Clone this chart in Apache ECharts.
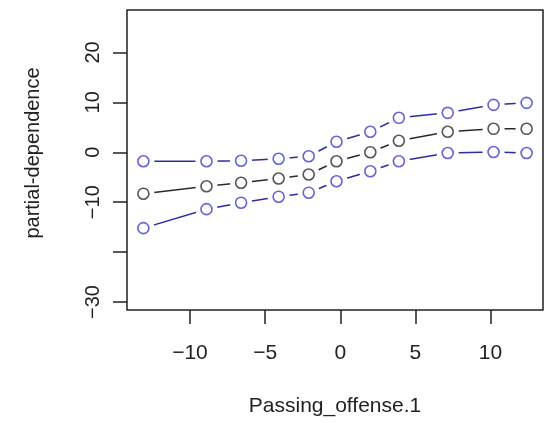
<!DOCTYPE html>
<html>
<head>
<meta charset="utf-8">
<script src="https://cdn.jsdelivr.net/npm/echarts@6/dist/echarts.min.js"></script>
<style>html,body{margin:0;padding:0;background:#fff;}#c{width:546px;height:422px;}</style>
</head>
<body>
<div id="c"></div>
<script>
const xValues = [-13.1, -8.9, -6.6, -4.1, -2.1, -0.25, 2.0, 3.9, 7.15, 10.2, 12.4];
const upper = [-1.8, -1.8, -1.7, -1.3, -0.8, 2.1, 4.1, 6.9, 7.9, 9.5, 9.9];
const middle = [-8.3, -6.8, -6.1, -5.25, -4.45, -1.8, 0.0, 2.3, 4.1, 4.7, 4.7];
const lower = [-15.2, -11.4, -10.1, -8.9, -8.1, -5.8, -3.8, -1.8, -0.15, 0.05, -0.15];
const xTicks = [-10, -5, 0, 5, 10];
const yTicks = [-30, -20, -10, 0, 10, 20];
const yTickLabels = [-30, -10, 0, 10, 20];

const BLUE = '#3c3cd2';
const BLUE_LINE = '#2c2ca8';
const BLACK = '#2a2a2a';
const TXT = '#222';

function pairs(ys) { return xValues.map((x, i) => [x, ys[i]]); }
function fmt(v) { return String(v).replace('-', '\u2212'); }

function seriesFor(ys, lineColor, ptColor) {
  return [
    {
      type: 'line', data: pairs(ys), symbol: 'circle', symbolSize: 22,
      itemStyle: { color: '#fff', borderWidth: 0 },
      lineStyle: { color: lineColor, width: 1.5 },
      silent: true, animation: false, z: 2
    },
    {
      type: 'scatter', data: pairs(ys), symbol: 'circle', symbolSize: 11,
      itemStyle: { color: 'rgba(255,255,255,0)', borderColor: ptColor, borderWidth: 1.6 },
      animation: false, z: 3
    }
  ];
}

const chart = echarts.init(document.getElementById('c'), null, { renderer: 'canvas' });
chart.setOption({
  backgroundColor: '#fff',
  animation: false,
  grid: { left: 127, right: 3, top: 10, bottom: 111, show: true, borderColor: '#222', borderWidth: 1.5, backgroundColor: 'transparent' },
  xAxis: {
    type: 'value', min: -14.19, max: 13.49,
    splitLine: { show: false },
    axisLine: { show: false, onZero: false },
    axisTick: { show: true, length: 14, lineStyle: { color: '#222', width: 1.5 }, customValues: xTicks },
    axisLabel: { color: TXT, fontFamily: 'Liberation Sans', fontSize: 21, margin: 33, customValues: xTicks, formatter: fmt },
    name: 'Passing_offense.1', nameLocation: 'middle', nameGap: 86,
    nameTextStyle: { color: TXT, fontFamily: 'Liberation Sans', fontSize: 21 }
  },
  yAxis: {
    type: 'value', min: -31.6, max: 28.5,
    splitLine: { show: false },
    axisLine: { show: false, onZero: false },
    axisTick: { show: true, length: 14, lineStyle: { color: '#222', width: 1.5 }, customValues: yTicks },
    axisLabel: { color: TXT, fontFamily: 'Liberation Sans', fontSize: 20, margin: 24, rotate: 90, customValues: yTickLabels, formatter: fmt },
    name: 'partial-dependence', nameLocation: 'middle', nameGap: 84,
    nameTextStyle: { color: TXT, fontFamily: 'Liberation Sans', fontSize: 20, padding: [0, 0, 0, 14] }
  },
  series: [].concat(
    seriesFor(upper, BLUE_LINE, BLUE),
    seriesFor(middle, BLACK, BLACK),
    seriesFor(lower, BLUE_LINE, BLUE)
  )
});
</script>
</body>
</html>
